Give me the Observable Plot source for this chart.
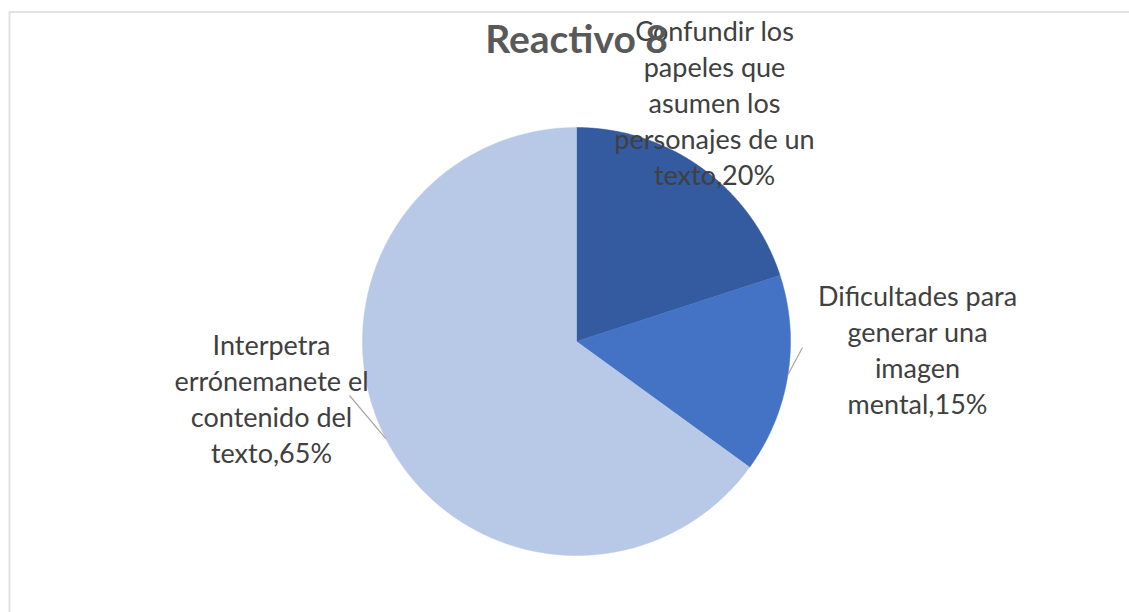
<!DOCTYPE html>
<html><head><meta charset="utf-8">
<script src="https://cdn.jsdelivr.net/npm/d3@7"></script>
<script src="https://cdn.jsdelivr.net/npm/@observablehq/plot@0.6"></script>
<style>html,body{margin:0;padding:0;background:#fff;} #chart{width:1129px;height:612px;overflow:hidden;}</style>
</head><body><div id="chart"></div>
<script>
// ---- data ----
const title = "Reactivo 8";
const categories = [
  "Confundir los papeles que asumen los personajes de un texto",
  "Dificultades para generar una imagen mental",
  "Interpetra errónemanete el contenido del texto"
];
const values = [20, 15, 65];
const colors = ["#345A9F", "#4472C4", "#B8C9E8"];
const labelTexts = [
  "Confundir los\npapeles que\nasumen los\npersonajes de un\ntexto,20%",
  "Dificultades para\ngenerar una\nimagen\nmental,15%",
  "Interpetra\nerrónemanete el\ncontenido del\ntexto,65%"
];

// ---- layout ----
const W = 1129, H = 612, cx = 576, cy = 341, R = 214;
const labelPos = [[714, 101], [917, 348], [271, 397]];
const leaderEnds = [null, [802, 347], [349, 395]];

const arcs = d3.pie().sort(null).value(d => d)(values);
const pts = [];
arcs.forEach((a, i) => {
  pts.push({cat: categories[i], x: cx, y: cy});
  const n = Math.max(2, Math.ceil((a.endAngle - a.startAngle) / 0.005));
  for (let k = 0; k <= n; k++) {
    const t = a.startAngle + (a.endAngle - a.startAngle) * k / n;
    pts.push({cat: categories[i], x: cx + R * Math.sin(t), y: cy - R * Math.cos(t)});
  }
  pts.push({cat: categories[i], x: cx, y: cy});
});

const labels = categories.map((c, i) => ({cat: c, text: labelTexts[i], x: labelPos[i][0], y: labelPos[i][1]}));
const leaders = [];
arcs.forEach((a, i) => {
  if (!leaderEnds[i]) return;
  const m = (a.startAngle + a.endAngle) / 2;
  leaders.push({x1: cx + R * Math.sin(m), y1: cy - R * Math.cos(m), x2: leaderEnds[i][0], y2: leaderEnds[i][1]});
});

const font = "Lato, 'Open Sans', sans-serif";
const chart = Plot.plot({
  width: W, height: H,
  margin: 0,
  x: {domain: [0, W], range: [0, W], axis: null},
  y: {domain: [0, H], range: [0, H], axis: null},
  color: {domain: categories, range: colors},
  style: {background: "#fff", fontFamily: font},
  marks: [
    Plot.ruleY([11.5], {x1: 9, x2: W, stroke: "#E3E3E3", strokeWidth: 2}),
    Plot.ruleX([9], {y1: 11, y2: H, stroke: "#E3E3E3", strokeWidth: 2}),
    Plot.line(pts, {x: "x", y: "y", z: "cat", fill: "cat", stroke: "cat", strokeWidth: 0.5, curve: "linear"}),
    Plot.link(leaders, {x1: "x1", y1: "y1", x2: "x2", y2: "y2", stroke: "#A6A6A6", strokeWidth: 1.2}),
    Plot.text(labels, {x: "x", y: "y", text: "text", fontSize: 27, lineHeight: 1.333, fill: "#404040", textAnchor: "middle", fontFamily: font}),
    Plot.text([title], {x: () => cx, y: () => 40, text: d => d, fontSize: 39, fontWeight: "bold", fill: "#595959", textAnchor: "middle", fontFamily: font})
  ]
});
document.getElementById("chart").appendChild(chart);
</script>
</body></html>
